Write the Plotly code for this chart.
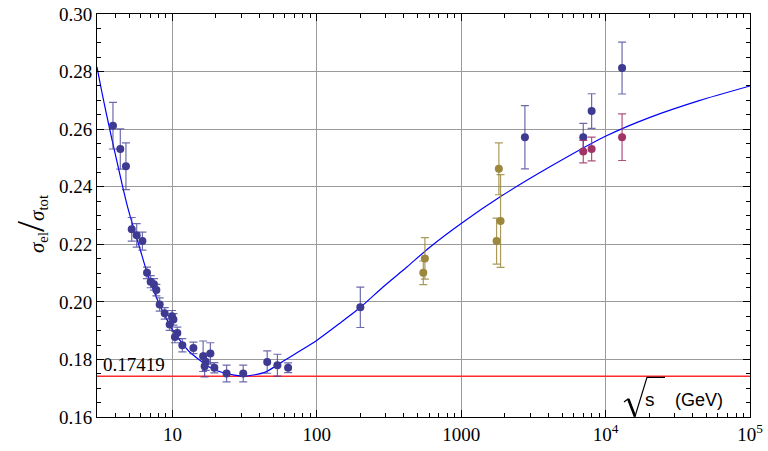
import plotly.graph_objects as go

# ---- data ----
# pp data (navy)
pp_s = [3.87, 4.35, 4.76, 5.22, 5.65, 6.19, 6.66, 7.06, 7.44, 7.73, 8.15, 8.83,
        9.92, 10.15, 9.56, 10.8, 10.4, 11.7, 13.96, 16.3, 18.3, 17.0, 16.7, 19.5,
        23.7, 30.9, 45.3, 53.3, 63.2, 200, 2760, 7000, 8000, 13000]
pp_r = [0.2612, 0.2531, 0.2471, 0.2252, 0.2231, 0.2211, 0.2101, 0.2070, 0.2061,
        0.2041, 0.1991, 0.1960, 0.1950, 0.1939, 0.1921, 0.1892, 0.1878, 0.1849,
        0.1840, 0.1811, 0.1821, 0.1792, 0.1776, 0.1771, 0.1751, 0.1751, 0.1791,
        0.1780, 0.1771, 0.1981, 0.2572, 0.2572, 0.2663, 0.2812]
pp_e = [0.0081, 0.0070, 0.0081, 0.0041, 0.0041, 0.0031, 0.0020, 0.0021, 0.0020,
        0.0020, 0.0023, 0.0020, 0.0020, 0.0020, 0.0020, 0.0020, 0.0020, 0.0023,
        0.0020, 0.0053, 0.0037, 0.0030, 0.0037, 0.0018, 0.0029, 0.0029, 0.0039,
        0.0038, 0.0017, 0.0070, 0.0110, 0.0048, 0.0060, 0.0090]

# p-pbar data (olive)
ppbar_s = [546, 560, 1822, 1872, 1757]
ppbar_r = [0.2101, 0.2151, 0.2462, 0.2281, 0.2211]
ppbar_e = [0.0041, 0.0072, 0.0090, 0.0161, 0.0080]

# LHC data (magenta)
lhc_s = [7000, 8000, 13000]
lhc_r = [0.2522, 0.2531, 0.2572]
lhc_e = [0.0039, 0.0041, 0.0081]

# fitted curve
fit_s = [3.0, 3.22, 3.50, 3.79, 4.10, 4.50, 4.89, 5.38, 5.93, 6.59, 7.29, 8.15,
         9.12, 10.03, 11.4, 13.2, 18.1, 23.0, 31.6, 43.6, 59.9, 76.1, 100.3,
         144.3, 201.5, 286, 420, 606, 1010, 1851, 4111, 10050, 20280, 45030, 100000]
fit_r = [0.2816, 0.2736, 0.2649, 0.2569, 0.2493, 0.2404, 0.2329, 0.2256, 0.2187,
         0.2110, 0.2048, 0.1989, 0.1940, 0.1902, 0.1863, 0.1825, 0.1773, 0.1752,
         0.1742, 0.1755, 0.1797, 0.1829, 0.1867, 0.1926, 0.1982, 0.2051, 0.2121,
         0.2190, 0.2274, 0.2364, 0.2469, 0.2576, 0.2641, 0.2700, 0.2750]

min_level = 0.17419
x_range_s = [3, 100000]

x_tickvals = [10, 100, 1000, 10000, 100000]
x_ticktext = ["10", "100", "1000", "10<sup>4</sup>", "10<sup>5</sup>"]
y_tickvals = [0.16, 0.18, 0.20, 0.22, 0.24, 0.26, 0.28, 0.30]
y_ticktext = ["0.16", "0.18", "0.20", "0.22", "0.24", "0.26", "0.28", "0.30"]

x_minor = [k * 10 ** e for e in range(0, 5) for k in range(2, 10)]

NAVY = "rgb(62,58,145)"
NAVY_BAR = "rgba(62,58,145,0.75)"
OLIVE = "rgb(155,136,62)"
OLIVE_BAR = "rgba(155,136,62,0.85)"
MAG = "rgb(160,52,102)"
MAG_BAR = "rgba(160,52,102,0.85)"

SERIF = "Liberation Serif"
SANS = "Liberation Sans"

fig = go.Figure()

# red horizontal level
fig.add_trace(go.Scatter(x=x_range_s, y=[min_level, min_level], mode="lines",
                         line=dict(color="#ff2a2a", width=1.5), hoverinfo="skip"))
# blue fit
fig.add_trace(go.Scatter(x=fit_s, y=fit_r, mode="lines",
                         line=dict(color="#0000ff", width=1.2, shape="spline", smoothing=0.6),
                         hoverinfo="skip"))


def add_pts(xs, ys, es, col, barcol):
    fig.add_trace(go.Scatter(
        x=xs, y=ys, mode="markers",
        marker=dict(color=col, size=8, line=dict(width=0)),
        error_y=dict(type="data", array=es, color=barcol, thickness=1.2, width=4),
    ))


add_pts(pp_s, pp_r, pp_e, NAVY, NAVY_BAR)
add_pts(ppbar_s, ppbar_r, ppbar_e, OLIVE, OLIVE_BAR)
add_pts(lhc_s, lhc_r, lhc_e, MAG, MAG_BAR)

L, R, T, B = 97, 18, 14, 34
W, H = 768, 451
PW, PH = W - L - R, H - T - B


def P(px, py):
    return (px - L) / PW, (H - B - py) / PH


annotations = []
# 0.17419 label
annotations.append(dict(text="0.17419", xref="paper", yref="y", x=0, y=min_level,
                        xanchor="left", yanchor="bottom", xshift=4, yshift=-1,
                        showarrow=False, font=dict(family=SERIF, size=19, color="black")))
# y title
tx, ty = P(30, 224)
annotations.append(dict(
    text="<i>σ</i><sub>el</sub><span style='font-size:40px'>/</span><i>σ</i><sub>tot</sub>",
    xref="paper", yref="paper", x=tx, y=ty, textangle=-90, showarrow=False,
    xanchor="center", yanchor="middle", font=dict(family=SERIF, size=21, color="black")))
# sqrt(s) (GeV)
sx, sy = P(650, 399)
annotations.append(dict(text="s", xref="paper", yref="paper", x=sx, y=sy, showarrow=False,
                        xanchor="center", yanchor="middle",
                        font=dict(family=SANS, size=19, color="black")))
gx, gy = P(699, 400)
annotations.append(dict(text="(GeV)", xref="paper", yref="paper", x=gx, y=gy, showarrow=False,
                        xanchor="center", yanchor="middle",
                        font=dict(family=SANS, size=18, color="black")))

# radical sign
pts = [P(624, 402), P(628, 399), P(635, 416.5), P(647, 377.3), P(665, 377.3)]
path = "M " + " L ".join(f"{x:.5f},{y:.5f}" for x, y in pts)
shapes = [
    dict(type="path", path=path, xref="paper", yref="paper",
         line=dict(color="black", width=1.2)),
    dict(type="line", xref="paper", yref="paper",
         x0=P(628.3, 399)[0], y0=P(628.3, 399)[1], x1=P(635, 416.5)[0], y1=P(635, 416.5)[1],
         line=dict(color="black", width=2.6)),
]

axis_common = dict(showline=True, linecolor="black", linewidth=1, mirror="ticks",
                   ticks="inside", tickcolor="black", tickwidth=1, ticklen=7,
                   showgrid=True, gridcolor="#9a9a9a", gridwidth=1, zeroline=False,
                   automargin=False,
                   tickfont=dict(family=SERIF, size=19, color="black"))

fig.update_layout(
    width=W, height=H,
    margin=dict(l=L, r=R, t=T, b=B, autoexpand=False),
    paper_bgcolor="white", plot_bgcolor="white",
    showlegend=False,
    annotations=annotations,
    shapes=shapes,
    xaxis=dict(type="log", range=[0.47712, 5.0], tickmode="array",
               tickvals=x_tickvals, ticktext=x_ticktext,
               minor=dict(tickmode="array", tickvals=x_minor, ticks="inside",
                          ticklen=4, tickcolor="black", showgrid=False),
               **axis_common),
    yaxis=dict(range=[0.16, 0.30], tickmode="array", tickvals=y_tickvals,
               ticktext=y_ticktext,
               minor=dict(dtick=0.005, tick0=0.16, ticks="inside", ticklen=4,
                          tickcolor="black", showgrid=False),
               **axis_common),
)

fig.write_html("out.html")
